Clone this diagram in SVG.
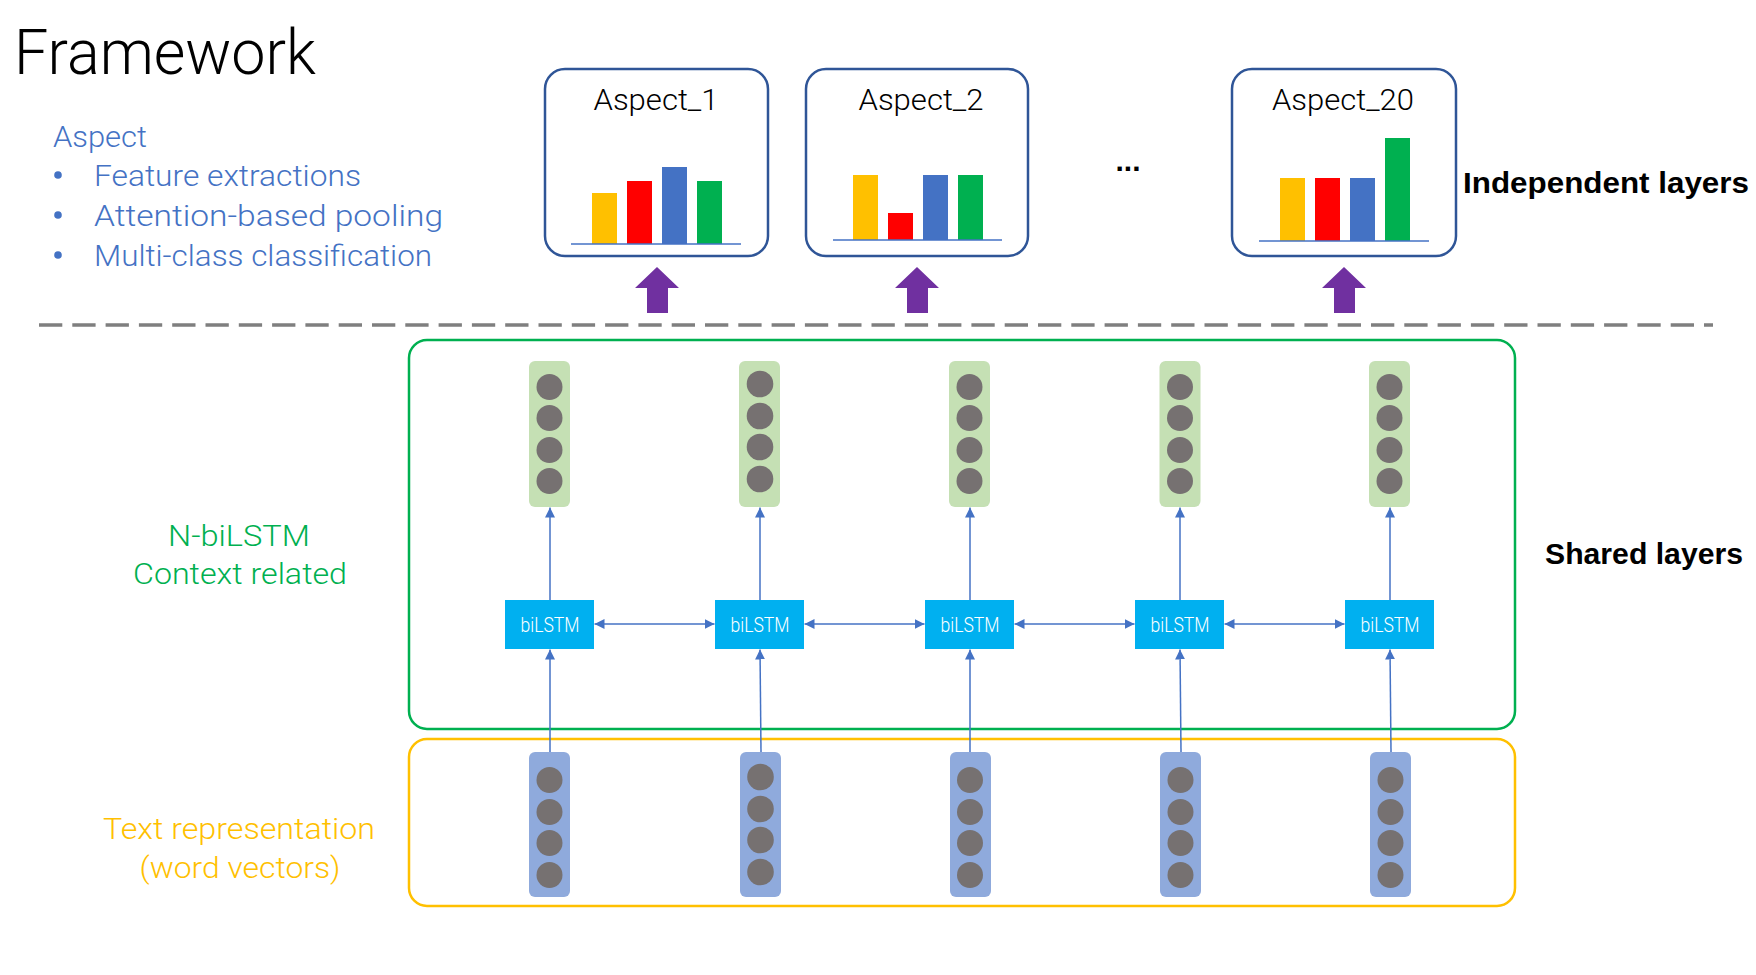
<svg xmlns="http://www.w3.org/2000/svg" width="1756" height="975" viewBox="0 0 1756 975">
  <defs>
    <style>
      .light { font-family: Roboto, "Liberation Sans", "Noto Sans", sans-serif; font-weight: 300; }
      .bold { font-family: "Liberation Sans", "Noto Sans", Arial, sans-serif; font-weight: bold; fill: #000; }
      .blueTxt { fill: #4472C4; }
      .aspectBox { fill: #fff; stroke: #2F5597; stroke-width: 2.5; }
      .axis { stroke: #4472C4; stroke-width: 1.6; }
      .by { fill: #FFC000; } .br { fill: #FF0000; } .bb { fill: #4472C4; } .bg { fill: #00B050; }
      .purple { fill: #7030A0; }
      .gcol { fill: #C5E0B4; }
      .bcol { fill: #8FAADC; }
      .dot { fill: #767171; }
      .lstm { fill: #00B0F0; }
      .lstmTxt { font-family: Roboto, "Liberation Sans", sans-serif; font-weight: 300; font-size: 21px; fill: #fff; }
      .conn { stroke: #4472C4; stroke-width: 1.5; fill: none; }
    </style>
    <marker id="ah" viewBox="0 0 10 10" refX="10" refY="5" markerWidth="10" markerHeight="10" markerUnits="userSpaceOnUse" orient="auto-start-reverse">
      <path d="M0,0 L10,5 L0,10 z" fill="#4472C4"/>
    </marker>
  </defs>
  <rect width="1756" height="975" fill="#fff"/>

  <!-- Title and left description -->
  <g id="title">
    <text class="light" x="14" y="74" font-size="63" fill="#000" textLength="302" lengthAdjust="spacingAndGlyphs">Framework</text>
  </g>
  <g id="aspect-desc" class="light blueTxt" font-size="29">
    <text x="53" y="147" textLength="94" lengthAdjust="spacingAndGlyphs">Aspect</text>
    <circle cx="58" cy="175" r="3.8" fill="#4472C4"/>
    <circle cx="58" cy="215" r="3.8" fill="#4472C4"/>
    <circle cx="58" cy="255" r="3.8" fill="#4472C4"/>
    <text x="94" y="186" textLength="267" lengthAdjust="spacingAndGlyphs">Feature extractions</text>
    <text x="94" y="226" textLength="349" lengthAdjust="spacingAndGlyphs">Attention-based pooling</text>
    <text x="94" y="266" textLength="338" lengthAdjust="spacingAndGlyphs">Multi-class classification</text>
  </g>

  <!-- Independent layers -->
  <g id="aspect1">
    <rect class="aspectBox" x="545" y="69" width="223" height="187" rx="20"/>
    <text class="light" x="656" y="110" font-size="29" fill="#000" text-anchor="middle" textLength="125" lengthAdjust="spacingAndGlyphs">Aspect_1</text>
    <rect class="by" x="592" y="193" width="25" height="51"/>
    <rect class="br" x="627" y="181" width="25" height="63"/>
    <rect class="bb" x="662" y="167" width="25" height="77"/>
    <rect class="bg" x="697" y="181" width="25" height="63"/>
    <line class="axis" x1="571" y1="244" x2="741" y2="244"/>
  </g>
  <g id="aspect2">
    <rect class="aspectBox" x="806" y="69" width="222" height="187" rx="20"/>
    <text class="light" x="921" y="110" font-size="29" fill="#000" text-anchor="middle" textLength="125" lengthAdjust="spacingAndGlyphs">Aspect_2</text>
    <rect class="by" x="853" y="175" width="25" height="65"/>
    <rect class="br" x="888" y="213" width="25" height="27"/>
    <rect class="bb" x="923" y="175" width="25" height="65"/>
    <rect class="bg" x="958" y="175" width="25" height="65"/>
    <line class="axis" x1="833" y1="240" x2="1002" y2="240"/>
  </g>
  <g id="ellipsis">
    <text class="bold" x="1128" y="171" font-size="30" text-anchor="middle">...</text>
  </g>
  <g id="aspect20">
    <rect class="aspectBox" x="1232" y="69" width="224" height="187" rx="20"/>
    <text class="light" x="1343" y="110" font-size="29" fill="#000" text-anchor="middle" textLength="142" lengthAdjust="spacingAndGlyphs">Aspect_20</text>
    <rect class="by" x="1280" y="178" width="25" height="63"/>
    <rect class="br" x="1315" y="178" width="25" height="63"/>
    <rect class="bb" x="1350" y="178" width="25" height="63"/>
    <rect class="bg" x="1385" y="138" width="25" height="103"/>
    <line class="axis" x1="1259" y1="241" x2="1429" y2="241"/>
  </g>
  <g id="independent-label">
    <text class="bold" x="1463" y="193" font-size="30" textLength="286" lengthAdjust="spacingAndGlyphs">Independent layers</text>
  </g>

  <!-- Purple block arrows -->
  <g id="up-arrows" class="purple">
    <path d="M657,267 L679,288 L668,288 L668,313 L647,313 L647,288 L635,288 Z"/>
    <path d="M917,267 L939,288 L928,288 L928,313 L907,313 L907,288 L895,288 Z"/>
    <path d="M1344,267 L1366,288 L1355,288 L1355,313 L1334,313 L1334,288 L1322,288 Z"/>
  </g>

  <!-- Divider -->
  <g id="divider">
    <line x1="39" y1="325" x2="1713" y2="325" stroke="#7F7F7F" stroke-width="3.3" stroke-dasharray="23.3 10"/>
  </g>

  <!-- Shared layers -->
  <g id="shared-label">
    <text class="bold" x="1545" y="564" font-size="30" textLength="198" lengthAdjust="spacingAndGlyphs">Shared layers</text>
  </g>
  <g id="nbilstm-box">
    <rect x="409" y="340" width="1106" height="389" rx="18" fill="none" stroke="#00B050" stroke-width="2.5"/>
    <text class="light" x="239" y="546" font-size="30" fill="#00B050" text-anchor="middle" textLength="142" lengthAdjust="spacingAndGlyphs">N-biLSTM</text>
    <text class="light" x="240" y="584" font-size="30" fill="#00B050" text-anchor="middle" textLength="214" lengthAdjust="spacingAndGlyphs">Context related</text>
  </g>
  <g id="text-repr-box">
    <rect x="409" y="739" width="1106" height="167" rx="18" fill="none" stroke="#FFC000" stroke-width="2.5"/>
    <text class="light" x="239" y="839" font-size="30" fill="#FFC000" text-anchor="middle" textLength="272" lengthAdjust="spacingAndGlyphs">Text representation</text>
    <text class="light" x="240" y="878" font-size="30" fill="#FFC000" text-anchor="middle" textLength="201" lengthAdjust="spacingAndGlyphs">(word vectors)</text>
  </g>

  <!-- Connectors -->
  <g id="connectors">
    <line class="conn" x1="550" y1="600" x2="550" y2="507.5" marker-end="url(#ah)"/>
    <line class="conn" x1="760" y1="600" x2="760" y2="507.5" marker-end="url(#ah)"/>
    <line class="conn" x1="970" y1="600" x2="970" y2="507.5" marker-end="url(#ah)"/>
    <line class="conn" x1="1180" y1="600" x2="1180" y2="507.5" marker-end="url(#ah)"/>
    <line class="conn" x1="1390" y1="600" x2="1390" y2="507.5" marker-end="url(#ah)"/>

    <line class="conn" x1="550" y1="752" x2="550" y2="649.5" marker-end="url(#ah)"/>
    <line class="conn" x1="761" y1="752" x2="760" y2="649.5" marker-end="url(#ah)"/>
    <line class="conn" x1="970" y1="752" x2="970" y2="649.5" marker-end="url(#ah)"/>
    <line class="conn" x1="1181" y1="752" x2="1180" y2="649.5" marker-end="url(#ah)"/>
    <line class="conn" x1="1391" y1="752" x2="1390" y2="649.5" marker-end="url(#ah)"/>

    <line class="conn" x1="594.5" y1="624" x2="714.5" y2="624" marker-start="url(#ah)" marker-end="url(#ah)"/>
    <line class="conn" x1="804.5" y1="624" x2="924.5" y2="624" marker-start="url(#ah)" marker-end="url(#ah)"/>
    <line class="conn" x1="1014.5" y1="624" x2="1134.5" y2="624" marker-start="url(#ah)" marker-end="url(#ah)"/>
    <line class="conn" x1="1224.5" y1="624" x2="1344.5" y2="624" marker-start="url(#ah)" marker-end="url(#ah)"/>
  </g>

  <!-- Context vectors (green columns) -->
  <g id="ctx1">
    <rect class="gcol" x="529" y="361" width="41" height="146" rx="6"/>
    <circle class="dot" cx="549.5" cy="387" r="13"/><circle class="dot" cx="549.5" cy="418" r="13"/>
    <circle class="dot" cx="549.5" cy="450" r="13"/><circle class="dot" cx="549.5" cy="481" r="13"/>
  </g>
  <g id="ctx2">
    <rect class="gcol" x="739" y="361" width="41" height="146" rx="6"/>
    <circle class="dot" cx="760" cy="384" r="13.3"/><circle class="dot" cx="760" cy="416" r="13.3"/>
    <circle class="dot" cx="760" cy="447" r="13.3"/><circle class="dot" cx="760" cy="479" r="13.3"/>
  </g>
  <g id="ctx3">
    <rect class="gcol" x="949" y="361" width="41" height="146" rx="6"/>
    <circle class="dot" cx="969.5" cy="387" r="13"/><circle class="dot" cx="969.5" cy="418" r="13"/>
    <circle class="dot" cx="969.5" cy="450" r="13"/><circle class="dot" cx="969.5" cy="481" r="13"/>
  </g>
  <g id="ctx4">
    <rect class="gcol" x="1159.5" y="361" width="41" height="146" rx="6"/>
    <circle class="dot" cx="1180" cy="387" r="13"/><circle class="dot" cx="1180" cy="418" r="13"/>
    <circle class="dot" cx="1180" cy="450" r="13"/><circle class="dot" cx="1180" cy="481" r="13"/>
  </g>
  <g id="ctx5">
    <rect class="gcol" x="1369" y="361" width="41" height="146" rx="6"/>
    <circle class="dot" cx="1389.5" cy="387" r="13"/><circle class="dot" cx="1389.5" cy="418" r="13"/>
    <circle class="dot" cx="1389.5" cy="450" r="13"/><circle class="dot" cx="1389.5" cy="481" r="13"/>
  </g>

  <!-- biLSTM cells -->
  <g id="lstm1"><rect class="lstm" x="505" y="600" width="89" height="49"/><text class="lstmTxt" x="550" y="632" text-anchor="middle" textLength="59" lengthAdjust="spacingAndGlyphs">biLSTM</text></g>
  <g id="lstm2"><rect class="lstm" x="715" y="600" width="89" height="49"/><text class="lstmTxt" x="760" y="632" text-anchor="middle" textLength="59" lengthAdjust="spacingAndGlyphs">biLSTM</text></g>
  <g id="lstm3"><rect class="lstm" x="925" y="600" width="89" height="49"/><text class="lstmTxt" x="970" y="632" text-anchor="middle" textLength="59" lengthAdjust="spacingAndGlyphs">biLSTM</text></g>
  <g id="lstm4"><rect class="lstm" x="1135" y="600" width="89" height="49"/><text class="lstmTxt" x="1180" y="632" text-anchor="middle" textLength="59" lengthAdjust="spacingAndGlyphs">biLSTM</text></g>
  <g id="lstm5"><rect class="lstm" x="1345" y="600" width="89" height="49"/><text class="lstmTxt" x="1390" y="632" text-anchor="middle" textLength="59" lengthAdjust="spacingAndGlyphs">biLSTM</text></g>

  <!-- Word vectors (blue columns) -->
  <g id="word1">
    <rect class="bcol" x="529" y="752" width="41" height="145" rx="6"/>
    <circle class="dot" cx="549.5" cy="780" r="13"/><circle class="dot" cx="549.5" cy="812" r="13"/>
    <circle class="dot" cx="549.5" cy="843" r="13"/><circle class="dot" cx="549.5" cy="875" r="13"/>
  </g>
  <g id="word2">
    <rect class="bcol" x="740" y="752" width="41" height="145" rx="6"/>
    <circle class="dot" cx="760.5" cy="777" r="13.3"/><circle class="dot" cx="760.5" cy="809" r="13.3"/>
    <circle class="dot" cx="760.5" cy="840" r="13.3"/><circle class="dot" cx="760.5" cy="872" r="13.3"/>
  </g>
  <g id="word3">
    <rect class="bcol" x="950" y="752" width="41" height="145" rx="6"/>
    <circle class="dot" cx="970" cy="780" r="13"/><circle class="dot" cx="970" cy="812" r="13"/>
    <circle class="dot" cx="970" cy="843" r="13"/><circle class="dot" cx="970" cy="875" r="13"/>
  </g>
  <g id="word4">
    <rect class="bcol" x="1160" y="752" width="41" height="145" rx="6"/>
    <circle class="dot" cx="1180.5" cy="780" r="13"/><circle class="dot" cx="1180.5" cy="812" r="13"/>
    <circle class="dot" cx="1180.5" cy="843" r="13"/><circle class="dot" cx="1180.5" cy="875" r="13"/>
  </g>
  <g id="word5">
    <rect class="bcol" x="1370" y="752" width="41" height="145" rx="6"/>
    <circle class="dot" cx="1390.5" cy="780" r="13"/><circle class="dot" cx="1390.5" cy="812" r="13"/>
    <circle class="dot" cx="1390.5" cy="843" r="13"/><circle class="dot" cx="1390.5" cy="875" r="13"/>
  </g>
</svg>
